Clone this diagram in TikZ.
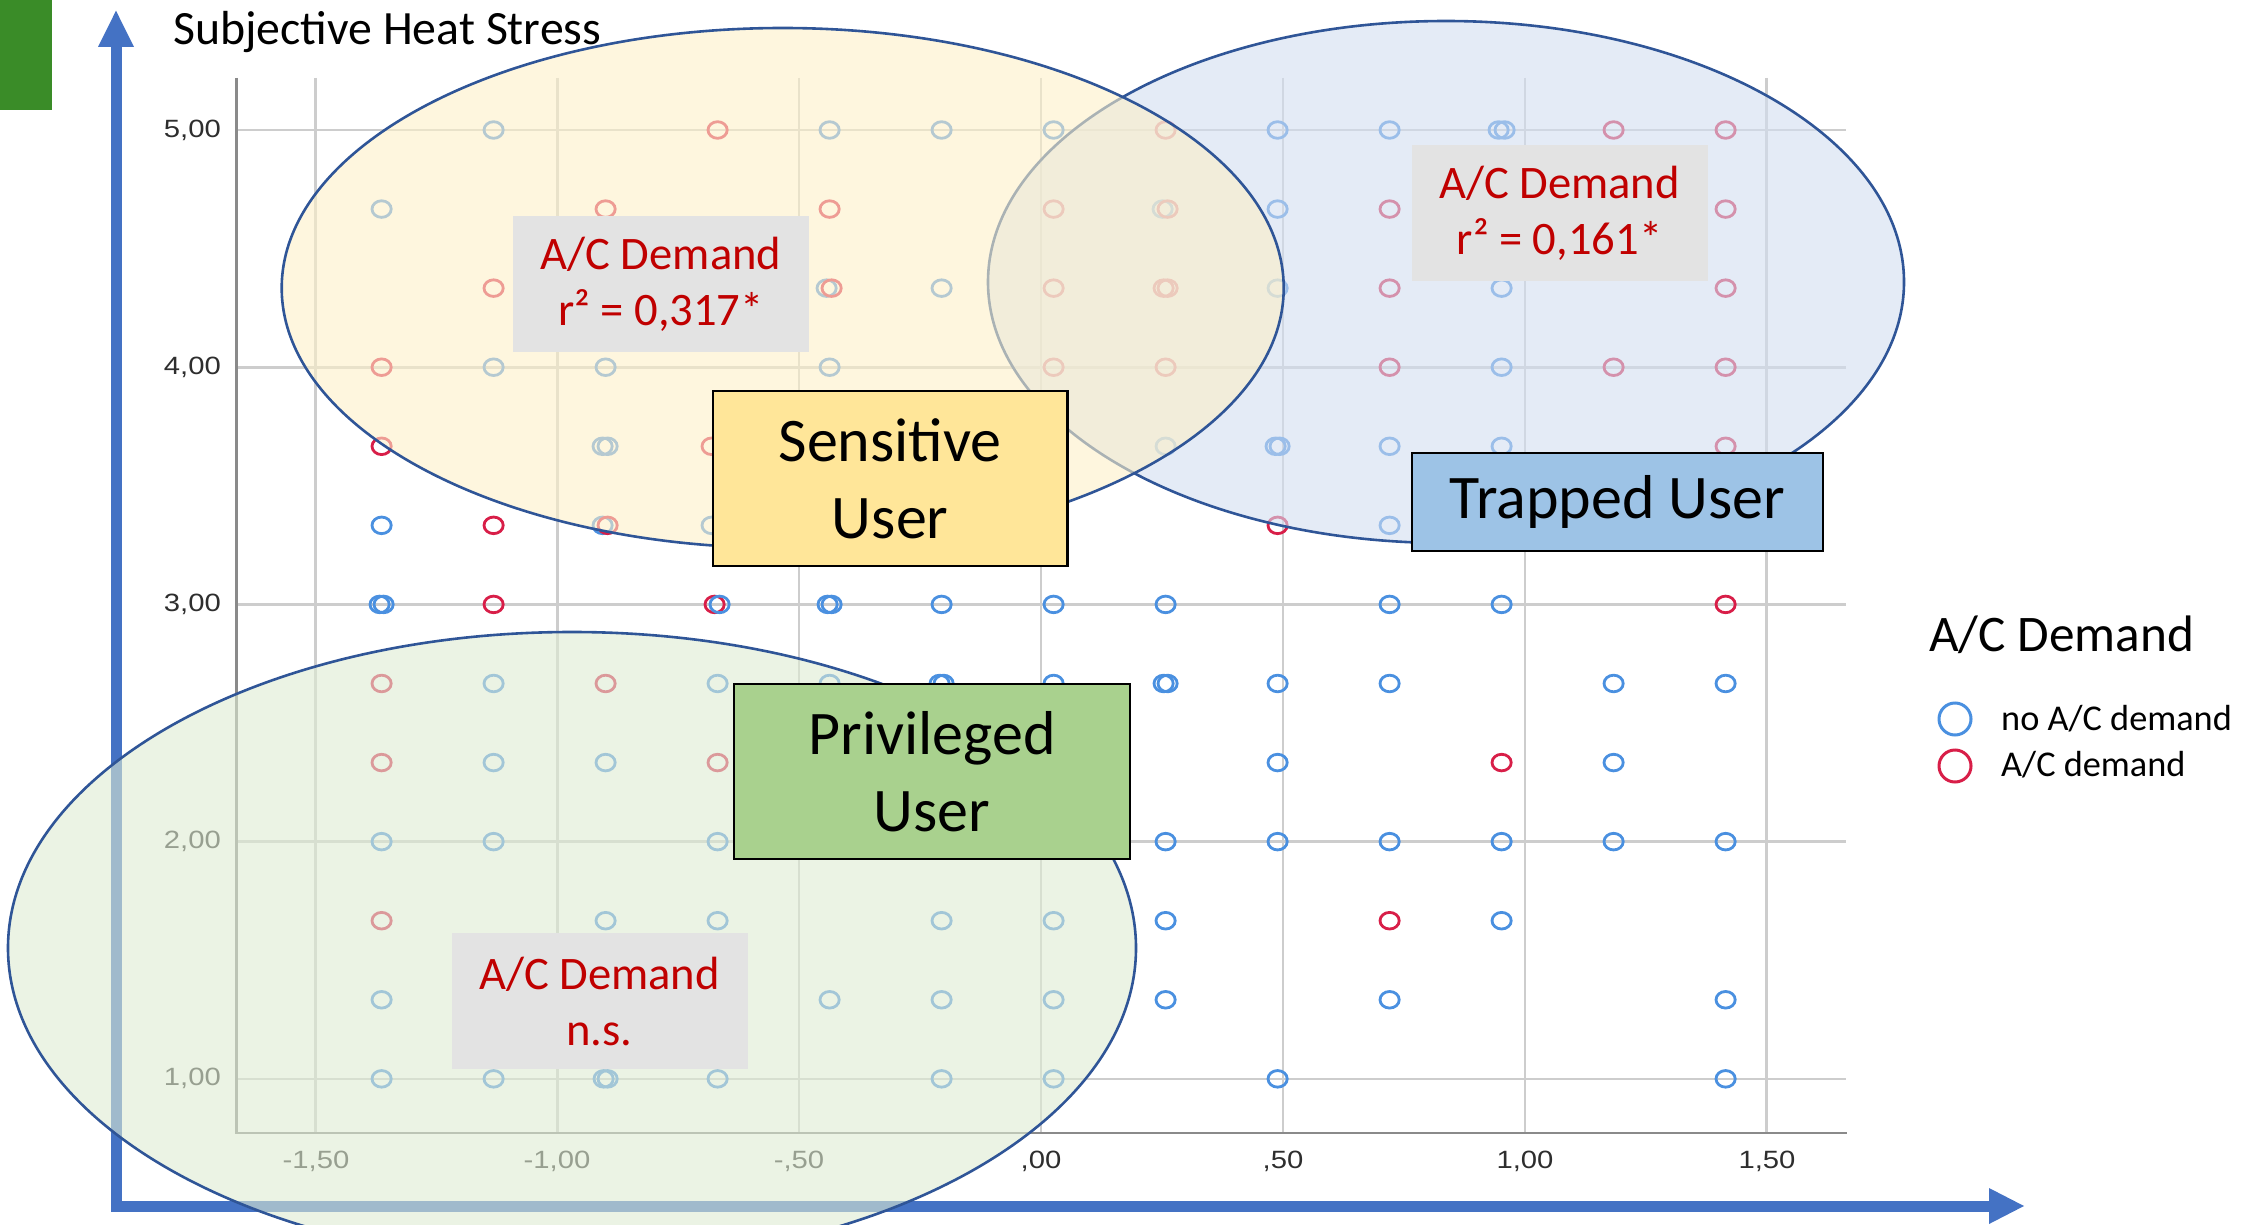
\documentclass[tikz,border=0pt]{standalone}
\usepackage{fontspec}
\setmainfont{Carlito}
\newfontfamily\tickfont{Liberation Sans}
\definecolor{axisblue}{HTML}{4472C4}
\definecolor{ellline}{HTML}{2F5597}
\definecolor{ptblue}{HTML}{4A90E0}
\definecolor{ptred}{HTML}{D81E48}
\definecolor{gridc}{HTML}{CDCDCD}
\definecolor{framec}{HTML}{8A8A8A}
\definecolor{tickc}{HTML}{2E2E2E}
\definecolor{blueell}{HTML}{D2DEF0}
\definecolor{yellell}{HTML}{FDF0C8}
\definecolor{greenell}{HTML}{DEEBD2}
\definecolor{graybox}{HTML}{E3E3E3}
\definecolor{redtxt}{HTML}{C00000}
\definecolor{sensfill}{HTML}{FFE699}
\definecolor{trapfill}{HTML}{9DC3E6}
\definecolor{privfill}{HTML}{A9D18E}
\definecolor{topgreen}{HTML}{3A8C28}
\begin{document}
\begin{tikzpicture}[x=1pt,y=-1pt,
  bpt/.style={draw=ptblue, line width=2.8pt},
  rpt/.style={draw=ptred, line width=2.8pt},
  gridline/.style={draw=gridc, line width=2.6pt},
  frameline/.style={draw=framec, line width=2.8pt},
  ytick/.style={anchor=east, text=tickc, inner sep=0pt, font=\tickfont\fontsize{25}{25}\selectfont},
  xtick/.style={anchor=center, text=tickc, inner sep=0pt, font=\tickfont\fontsize{25}{25}\selectfont},
  region/.style={line width=2.6pt, draw=ellline, fill opacity=0.6, draw opacity=1},
  statbox/.style={fill=graybox, text=redtxt, inner sep=0pt, align=center, minimum width=296pt, minimum height=136pt, font=\fontsize{46.6}{56}\selectfont},
  userbox/.style={draw=black, line width=2.6pt, inner sep=0pt, align=center, font=\fontsize{62}{76.6}\selectfont}
]
\useasboundingbox (0,0) rectangle (2241,1225);
\clip (0,0) rectangle (2241,1225);
% top-left green mark
\fill[topgreen] (0,0) rectangle (52,110);
% chart grid
\foreach \r in {0,...,4} {
  \draw[gridline] (236.6,{130+237.2*\r}) -- (1846,{130+237.2*\r});
}
\foreach \u in {-1.5,-1,-0.5,0,0.5,1,1.5} {
  \draw[gridline] ({1041+483.8*\u},78) -- ({1041+483.8*\u},1133);
}
\draw[frameline] (236.6,78) -- (236.6,1133) -- (1847,1133);
% tick labels
\node[ytick] (y5) at (221,130) {\scalebox{1.17}[1]{5,00}};
\node[ytick] (y4) at (221,367.2) {\scalebox{1.17}[1]{4,00}};
\node[ytick] (y3) at (221,604.4) {\scalebox{1.17}[1]{3,00}};
\node[ytick] (y2) at (221,841.6) {\scalebox{1.17}[1]{2,00}};
\node[ytick] (y1) at (221,1078.8) {\scalebox{1.17}[1]{1,00}};
\node[xtick] (xa) at (316,1161) {\scalebox{1.17}[1]{-1,50}};
\node[xtick] (xb) at (557,1161) {\scalebox{1.17}[1]{-1,00}};
\node[xtick] (xc) at (799,1161) {\scalebox{1.17}[1]{-,50}};
\node[xtick] (xd) at (1041,1161) {\scalebox{1.17}[1]{,00}};
\node[xtick] (xe) at (1283,1161) {\scalebox{1.17}[1]{,50}};
\node[xtick] (xf) at (1525,1161) {\scalebox{1.17}[1]{1,00}};
\node[xtick] (xg) at (1767,1161) {\scalebox{1.17}[1]{1,50}};
% data points
\foreach \k/\r/\cc/\d in {
 1/0/b/0, 3/0/r/0, 4/0/b/0, 5/0/b/0, 6/0/b/0, 7/0/r/0, 8/0/b/0, 9/0/b/0, 10/0/b/-3, 10/0/b/3, 11/0/r/0, 12/0/r/0,
 0/1/b/0, 2/1/r/0, 4/1/r/0, 6/1/r/0, 7/1/b/-3, 7/1/r/2, 8/1/b/0, 9/1/r/0, 12/1/r/0,
 1/2/r/0, 4/2/b/-3, 4/2/r/2, 5/2/b/0, 6/2/r/0, 7/2/r/-2, 7/2/r/2, 8/2/b/0, 9/2/r/0, 10/2/b/0, 12/2/r/0,
 0/3/r/0, 1/3/b/0, 2/3/b/0, 4/3/b/0, 6/3/r/0, 7/3/r/0, 9/3/r/0, 10/3/b/0, 11/3/r/0, 12/3/r/0,
 0/4/r/0, 2/4/b/-3, 2/4/b/2, 3/4/r/-6, 7/4/b/0, 8/4/b/-2, 8/4/b/2, 9/4/b/0, 10/4/b/0, 12/4/r/0,
 0/5/b/0, 1/5/r/0, 2/5/b/-3, 2/5/r/2, 3/5/b/-6, 8/5/r/0, 9/5/b/0,
 0/6/b/-2, 0/6/b/2, 1/6/r/0, 3/6/r/-3, 3/6/b/2, 4/6/b/-2, 4/6/b/2, 5/6/b/0, 6/6/b/0, 7/6/b/0, 9/6/b/0, 10/6/b/0, 12/6/r/0,
 0/7/r/0, 1/7/b/0, 2/7/r/0, 3/7/b/0, 4/7/b/0, 5/7/b/-2, 5/7/b/2, 6/7/b/0, 7/7/b/-2, 7/7/b/2, 8/7/b/0, 9/7/b/0, 11/7/b/0, 12/7/b/0,
 0/8/r/0, 1/8/b/0, 2/8/b/0, 3/8/r/0, 8/8/b/0, 10/8/r/0, 11/8/b/0,
 0/9/b/0, 1/9/b/0, 3/9/b/0, 7/9/b/0, 8/9/b/0, 9/9/b/0, 10/9/b/0, 11/9/b/0, 12/9/b/0,
 0/10/r/0, 2/10/b/0, 3/10/b/0, 5/10/b/0, 6/10/b/0, 7/10/b/0, 9/10/r/0, 10/10/b/0,
 0/11/b/0, 4/11/b/0, 5/11/b/0, 6/11/b/0, 7/11/b/0, 9/11/b/0, 12/11/b/0,
 0/12/b/0, 1/12/b/0, 2/12/b/-2, 2/12/b/2, 3/12/b/0, 5/12/b/0, 6/12/b/0, 8/12/b/0, 12/12/b/0} {
  \draw[\cc pt] ({381.6+112*\k+\d},{130+79.07*\r}) ellipse [x radius=9.6pt, y radius=8.3pt];
}
% axes
\draw[axisblue, line width=11pt, line join=miter] (116,46) -- (116,1206) -- (1990,1206);
\fill[axisblue] (116,10.7) -- (98,47) -- (134,47) -- cycle;
\fill[axisblue] (2024,1206) -- (1989,1188) -- (1989,1224) -- cycle;
\node[anchor=base west, inner sep=0pt, font=\fontsize{47.8}{56}\selectfont] (ylabel) at (173,45) {Subjective Heat Stress};
% regions
\draw[region, fill=blueell] (1446,282) ellipse [x radius=458pt, y radius=261pt];
\draw[region, fill=yellell] (782.7,288) ellipse [x radius=501pt, y radius=260pt];
\draw[region, fill=greenell] (572,948) ellipse [x radius=564pt, y radius=316pt];
% statistic boxes
\node[statbox] (stat1) at (661,284) {A/C Demand\\r² = 0,317*};
\node[statbox] (stat2) at (1559.5,213) {A/C Demand\\r² = 0,161*};
\node[statbox] (stat3) at (599.5,1001) {A/C Demand\\n.s.};
% user boxes
\node[userbox, fill=sensfill, minimum width=354.5pt, minimum height=174.7pt] (sens) at (890.2,478.5) {Sensitive\\User};
\node[userbox, fill=trapfill, minimum width=411pt, minimum height=98pt] (trap) at (1617.5,502) {Trapped User};
\node[userbox, fill=privfill, minimum width=396pt, minimum height=175pt] (priv) at (932,771.5) {Privileged\\User};
% legend
\node[anchor=base west, inner sep=0pt, font=\fontsize{51.3}{60}\selectfont] (legtitle) at (1929,651.7) {A/C Demand};
\draw[draw=ptblue, line width=3pt] (1955,719) circle [radius=16pt];
\draw[draw=ptred, line width=3pt] (1955,766) circle [radius=16pt];
\node[anchor=base west, inner sep=0pt, font=\fontsize{36.3}{44}\selectfont] (legno) at (2001,730) {no A/C demand};
\node[anchor=base west, inner sep=0pt, font=\fontsize{36.3}{44}\selectfont] (legyes) at (2001,776) {A/C demand};
\end{tikzpicture}
\end{document}
